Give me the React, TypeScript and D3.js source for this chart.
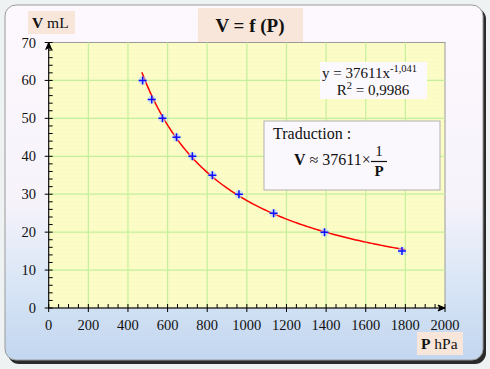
import * as d3 from 'd3';
import React, { useEffect, useRef } from 'react';

// mesures (pression en hPa, volume en mL)
const pressures = [474, 520, 574, 645, 725, 826, 960, 1135, 1392, 1783];
const volumes = [60, 55, 50, 45, 40, 35, 30, 25, 20, 15];

// courbe de tendance : y = a * x^b
const trendCoef = [37611, -1.041];
const trendRange = [470, 1800];

const xTicks = [0, 200, 400, 600, 800, 1000, 1200, 1400, 1600, 1800, 2000];
const yTicks = [0, 10, 20, 30, 40, 50, 60, 70];

const FONT = '"Liberation Serif", "DejaVu Serif", serif';

const App = () => {
  const ref = useRef<SVGSVGElement>(null);

  useEffect(() => {
    const W = 490, H = 369;
    const svg = d3.select(ref.current)
      .attr('width', W)
      .attr('height', H)
      .style('font-family', FONT);
    svg.selectAll('*').remove();

    const defs = svg.append('defs');
    const grad = defs.append('linearGradient')
      .attr('id', 'cardGrad').attr('x1', 0).attr('y1', 0).attr('x2', 0).attr('y2', 1);
    [['0', '#fdf8fd'], ['0.55', '#f7f3fb'], ['0.78', '#d9e6f6'], ['1', '#c2d6ef']]
      .forEach(([o, c]) => grad.append('stop').attr('offset', o).attr('stop-color', c));

    const dots = defs.append('pattern')
      .attr('id', 'dots').attr('width', 4).attr('height', 4).attr('patternUnits', 'userSpaceOnUse');
    dots.append('rect').attr('width', 4).attr('height', 4).attr('fill', '#fbfcc6');
    dots.append('rect').attr('x', 1).attr('y', 1).attr('width', 1).attr('height', 1).attr('fill', '#f3f5bc');

    // fond de page
    svg.append('rect').attr('width', W).attr('height', H).attr('fill', '#eef2f2');

    // carte + ombre
    svg.append('rect')
      .attr('x', 8).attr('y', 8).attr('width', 478).attr('height', 356)
      .attr('rx', 11).attr('fill', '#2a2a2a');
    svg.append('rect')
      .attr('x', 5).attr('y', 5).attr('width', 478).attr('height', 355)
      .attr('rx', 11).attr('fill', 'url(#cardGrad)')
      .attr('stroke', '#9a9a9a').attr('stroke-width', 1);

    const left = 48.7, right = 445, top = 42.5, bottom = 308;

    const x = d3.scaleLinear().domain([0, 2000]).range([left, right]);
    const y = d3.scaleLinear().domain([0, 70]).range([bottom, top]);

    // zone de tracé
    svg.append('rect')
      .attr('x', left).attr('y', top)
      .attr('width', right - left).attr('height', bottom - top)
      .attr('fill', 'url(#dots)')
      .attr('stroke', '#9a9a9a').attr('stroke-width', 1);

    // quadrillage
    svg.append('g').selectAll('line')
      .data(xTicks.slice(1, -1))
      .enter().append('line')
      .attr('x1', d => x(d)).attr('x2', d => x(d))
      .attr('y1', top).attr('y2', bottom)
      .attr('stroke', '#c4f09c').attr('stroke-width', 1.2);
    svg.append('g').selectAll('line')
      .data(yTicks.slice(1, -1))
      .enter().append('line')
      .attr('y1', d => y(d)).attr('y2', d => y(d))
      .attr('x1', left).attr('x2', right)
      .attr('stroke', '#c4f09c').attr('stroke-width', 1.2);

    // axes
    const axes = svg.append('g').attr('stroke', '#000').attr('stroke-width', 1);
    axes.append('line').attr('x1', left).attr('x2', right).attr('y1', bottom).attr('y2', bottom);
    axes.append('line').attr('x1', left).attr('x2', left).attr('y1', bottom).attr('y2', top);
    // flèches
    svg.append('path')
      .attr('d', `M${left},${top} l-3,7 l3,-2 l3,2 z`).attr('fill', '#000').attr('stroke', '#000');
    svg.append('path')
      .attr('d', `M${right},${bottom} l-7,-3 l2,3 l-2,3 z`).attr('fill', '#000').attr('stroke', '#000');

    // graduations
    const xMinor = d3.range(0, 2001, 50).filter(d => d % 200 !== 0);
    const yMinor = d3.range(0, 71, 2).filter(d => d % 10 !== 0);
    axes.selectAll('.xmaj').data(xTicks).enter().append('line')
      .attr('x1', d => x(d)).attr('x2', d => x(d)).attr('y1', bottom - 4).attr('y2', bottom + 4);
    axes.selectAll('.xmin').data(xMinor).enter().append('line')
      .attr('x1', d => x(d)).attr('x2', d => x(d)).attr('y1', bottom - 4).attr('y2', bottom);
    axes.selectAll('.ymaj').data(yTicks).enter().append('line')
      .attr('y1', d => y(d)).attr('y2', d => y(d)).attr('x1', left - 4).attr('x2', left + 4);
    axes.selectAll('.ymin').data(yMinor).enter().append('line')
      .attr('y1', d => y(d)).attr('y2', d => y(d)).attr('x1', left).attr('x2', left + 4);

    svg.append('g').selectAll('text')
      .data(xTicks).enter().append('text')
      .attr('x', d => x(d)).attr('y', bottom + 22)
      .attr('text-anchor', 'middle').attr('font-size', 14.5).attr('fill', '#111')
      .text(d => d);
    svg.append('g').selectAll('text')
      .data(yTicks).enter().append('text')
      .attr('x', 36).attr('y', d => y(d) + 5)
      .attr('text-anchor', 'end').attr('font-size', 14.5).attr('fill', '#111')
      .text(d => d);

    // courbe de tendance
    const [a, b] = trendCoef;
    const trendPts = d3.range(trendRange[0], trendRange[1] + 1, 10).map(p => [p, a * Math.pow(p, b)]);
    svg.append('path')
      .datum(trendPts)
      .attr('d', d3.line<number[]>().x(d => x(d[0])).y(d => y(d[1])))
      .attr('fill', 'none').attr('stroke', '#ff0000').attr('stroke-width', 1.5);

    // points
    const pts = pressures.map((p, i) => ({ p, v: volumes[i] }));
    const mk = svg.append('g').selectAll('g').data(pts).enter().append('g')
      .attr('transform', d => `translate(${x(d.p)},${y(d.v)})`);
    mk.append('circle').attr('r', 4).attr('fill', '#a8d0ff').attr('opacity', 0.55);
    mk.append('path').attr('d', 'M-4,0H4M0,-4V4').attr('stroke', '#1010ff').attr('stroke-width', 1.5);

    // titre
    svg.append('rect').attr('x', 198).attr('y', 8).attr('width', 105).attr('height', 34).attr('fill', '#f8e6da');
    svg.append('text').attr('x', 250).attr('y', 32).attr('text-anchor', 'middle')
      .attr('font-size', 19).attr('font-weight', 'bold').attr('fill', '#111').text('V = f (P)');

    // étiquettes d'axes
    svg.append('rect').attr('x', 28).attr('y', 11).attr('width', 47).attr('height', 23).attr('fill', '#f8e6da');
    const vl = svg.append('text').attr('x', 32).attr('y', 28).attr('font-size', 15.5).attr('fill', '#111');
    vl.append('tspan').attr('font-weight', 'bold').text('V');
    vl.append('tspan').text(' mL');

    svg.append('rect').attr('x', 417).attr('y', 332).attr('width', 46).attr('height', 23).attr('fill', '#f8e6da');
    const pl = svg.append('text').attr('x', 421).attr('y', 349).attr('font-size', 15.5).attr('fill', '#111');
    pl.append('tspan').attr('font-weight', 'bold').text('P');
    pl.append('tspan').text(' hPa');

    // équation de la tendance
    svg.append('rect').attr('x', 320).attr('y', 62).attr('width', 107).attr('height', 37).attr('fill', '#fbf9fd');
    const eq = svg.append('text').attr('x', 322).attr('y', 78).attr('font-size', 15).attr('fill', '#111');
    eq.append('tspan').text(`y = ${a}x`);
    eq.append('tspan').attr('font-size', 10.5).attr('dy', -6).text(`${b}`.replace('.', ','));
    const r2 = svg.append('text').attr('x', 373).attr('y', 95).attr('text-anchor', 'middle')
      .attr('font-size', 15).attr('fill', '#111');
    r2.append('tspan').text('R');
    r2.append('tspan').attr('font-size', 10.5).attr('dy', -6).text('2');
    r2.append('tspan').attr('dy', 6).text(' = 0,9986');

    // traduction
    svg.append('rect').attr('x', 264).attr('y', 121).attr('width', 176).attr('height', 69)
      .attr('fill', '#fbf8fd').attr('stroke', '#b0b0b0');
    svg.append('text').attr('x', 273).attr('y', 139).attr('font-size', 16).attr('fill', '#111').text('Traduction :');
    const tr = svg.append('text').attr('x', 294).attr('y', 165).attr('font-size', 16).attr('fill', '#111');
    tr.append('tspan').attr('font-weight', 'bold').text('V');
    tr.append('tspan').text(` ≈ ${a}×`);
    svg.append('text').attr('x', 379).attr('y', 156).attr('text-anchor', 'middle')
      .attr('font-size', 15).attr('fill', '#111').text('1');
    svg.append('line').attr('x1', 371).attr('x2', 387).attr('y1', 161.5).attr('y2', 161.5)
      .attr('stroke', '#111').attr('stroke-width', 1.2);
    svg.append('text').attr('x', 379).attr('y', 176).attr('text-anchor', 'middle')
      .attr('font-size', 15).attr('font-weight', 'bold').attr('fill', '#111').text('P');
  }, []);

  return (
    <div style={{ position: 'absolute', left: 0, top: 0 }}>
      <svg ref={ref} style={{ display: 'block' }}></svg>
    </div>
  );
};

export default App;
